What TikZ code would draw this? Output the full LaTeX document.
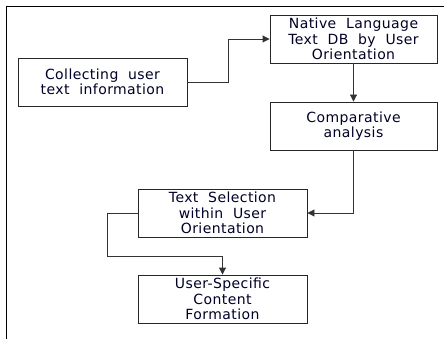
\documentclass[tikz,border=0pt]{standalone}
\usepackage{fontspec}
\setmainfont{DejaVu Sans}[LetterSpace=3]
\usetikzlibrary{arrows.meta}
\begin{document}
\begin{tikzpicture}[x=1pt,y=-1pt,
  box/.style={draw=black!85,line width=0.9pt,minimum width=169pt,minimum height=48pt,inner sep=0pt,align=center,font=\fontsize{14}{15.3}\selectfont,text=black!85!blue},
  conn/.style={draw=black!80,line width=0.9pt,-{Triangle[length=7pt,width=7pt]}},
  frame/.style={draw=black,line width=1pt}]
\useasboundingbox (0,0) rectangle (444,339);
\draw[frame] (444,7) -- (6,7) -- (6,339);
\node[box] (collect) at (102.5,82) {Collecting\ \ user\\text\ \ information};
\node[box,minimum width=167pt] (native) at (353.5,39) {Native\ \ Language\\Text\ \ DB\ \ by\ \ User\\Orientation};
\node[box,minimum width=167pt] (comp) at (353.5,126) {Comparative\\analysis};
\node[box] (select) at (222.5,213) {Text\ \ Selection\\within\ \ User\\Orientation};
\node[box] (specific) at (222.5,299) {User-Specific\\Content\\Formation};
\coordinate (c1) at (228,82);
\coordinate (c2) at (228,39);
\draw[conn] (collect.east) -- (c1) -- (c2) -- (native.west);
\draw[conn] (native.south) -- (comp.north);
\coordinate (c3) at (353.5,213);
\draw[conn] (comp.south) -- (c3) -- (select.east);
\coordinate (c4) at (107,213);
\coordinate (c5) at (107,256);
\coordinate (c6) at (222.5,256);
\draw[conn] (select.west) -- (c4) -- (c5) -- (c6) -- (specific.north);
\end{tikzpicture}
\end{document}
